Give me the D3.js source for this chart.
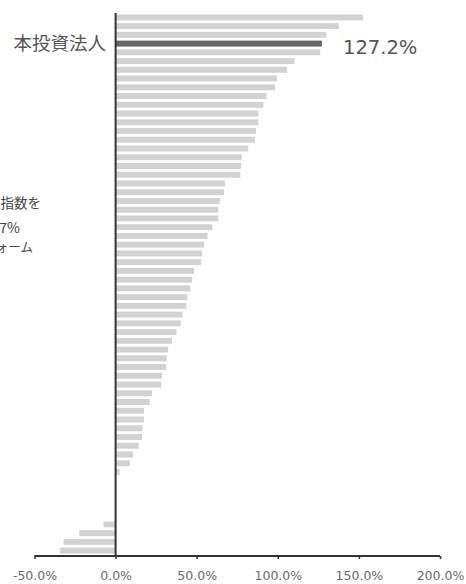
<!DOCTYPE html>
<html>
<head>
<meta charset="utf-8">
<script src="https://cdn.jsdelivr.net/npm/d3@7"></script>
<style>
  body { margin: 0; background: #fff; overflow: hidden; }
  svg { display: block; }
</style>
</head>
<body>
<script>
// returns (%) for each peer, sorted, top to bottom
const values = [
  152.5, 137.5, 129.9, 127.2, 126.2, 110.3, 105.7, 99.4, 98.3, 93.0,
  91.1, 88.0, 88.0, 86.6, 86.0, 81.8, 77.7, 77.3, 76.9, 67.4,
  66.8, 64.3, 63.3, 63.3, 59.6, 56.7, 54.6, 53.4, 52.6, 48.4,
  47.2, 46.0, 44.3, 43.7, 41.2, 40.2, 37.5, 34.8, 32.4, 31.5,
  31.1, 28.6, 28.2, 22.5, 21.0, 17.5, 17.5, 16.5, 16.3, 14.2,
  10.7, 8.7, 2.5, 0, 0, 0, 0, 0, -7.4, -22.3,
  -32.0, -34.2
];
const highlightIndex = 3;           // 本投資法人
const highlightName = "本投資法人";
const xTicks = [-50, 0, 50, 100, 150, 200];
const noteLines = ["東証リート指数を", "+26.7%", "アウトパフォーム"];

const W = 466, H = 584;
const svg = d3.select("body").append("svg")
  .attr("width", W)
  .attr("height", H);

const x = d3.scaleLinear().domain([-50, 200]).range([34.5, 440]);
const y = d3.scaleBand()
  .domain(d3.range(values.length))
  .range([13, 555])
  .paddingInner(0.32)
  .paddingOuter(0.16);

// bars
svg.append("g")
  .selectAll("rect")
  .data(values)
  .join("rect")
  .attr("x", d => x(Math.min(0, d)))
  .attr("y", (d, i) => y(i))
  .attr("width", d => Math.abs(x(d) - x(0)))
  .attr("height", y.bandwidth())
  .attr("fill", (d, i) => i === highlightIndex ? "#666" : "#d2d2d2");

// x axis
const axisY = 556;
const xAxis = svg.append("g")
  .attr("transform", `translate(0,${axisY})`)
  .call(d3.axisBottom(x)
    .tickValues(xTicks)
    .tickSize(3)
    .tickPadding(12)
    .tickFormat(d => d.toFixed(1) + "%"));
xAxis.select(".domain").attr("stroke", "#333").attr("stroke-width", 2)
  .attr("d", `M${x(-50)},0H${x(200)}`);
xAxis.selectAll(".tick line").attr("stroke", "#333").attr("stroke-width", 1.5);
xAxis.selectAll(".tick text")
  .attr("fill", "#6a6a6a")
  .style("font-family", "DejaVu Sans, Verdana, sans-serif")
  .style("font-size", "12.5px");

// vertical zero line
svg.append("line")
  .attr("x1", x(0)).attr("x2", x(0))
  .attr("y1", 13).attr("y2", axisY)
  .attr("stroke", "#333")
  .attr("stroke-width", 2);

// highlight labels
const hy = y(highlightIndex) + y.bandwidth() / 2;
svg.append("text")
  .attr("x", 106)
  .attr("y", hy)
  .attr("dy", "0.35em")
  .attr("text-anchor", "end")
  .attr("fill", "#555")
  .style("font-family", "Noto Sans CJK JP, sans-serif")
  .style("font-size", "18.5px")
  .text(highlightName);

svg.append("text")
  .attr("x", 343)
  .attr("y", hy + 4)
  .attr("dy", "0.35em")
  .attr("fill", "#555")
  .style("font-family", "DejaVu Sans, Verdana, sans-serif")
  .style("font-size", "19.5px")
  .text(values[highlightIndex].toFixed(1) + "%");

// annotation, cut off at the left edge
const noteX = [41, 20, 33];
const noteY = [203, 228, 248];
svg.append("g")
  .selectAll("text")
  .data(noteLines)
  .join("text")
  .attr("x", (d, i) => noteX[i])
  .attr("y", (d, i) => noteY[i])
  .attr("dy", "0.35em")
  .attr("text-anchor", "end")
  .attr("fill", "#444")
  .style("font-family", "Noto Sans CJK JP, sans-serif")
  .style("font-size", (d, i) => i === 1 ? "14px" : (i === 0 ? "13.5px" : "12.5px"))
  .text(d => d);
</script>
</body>
</html>
